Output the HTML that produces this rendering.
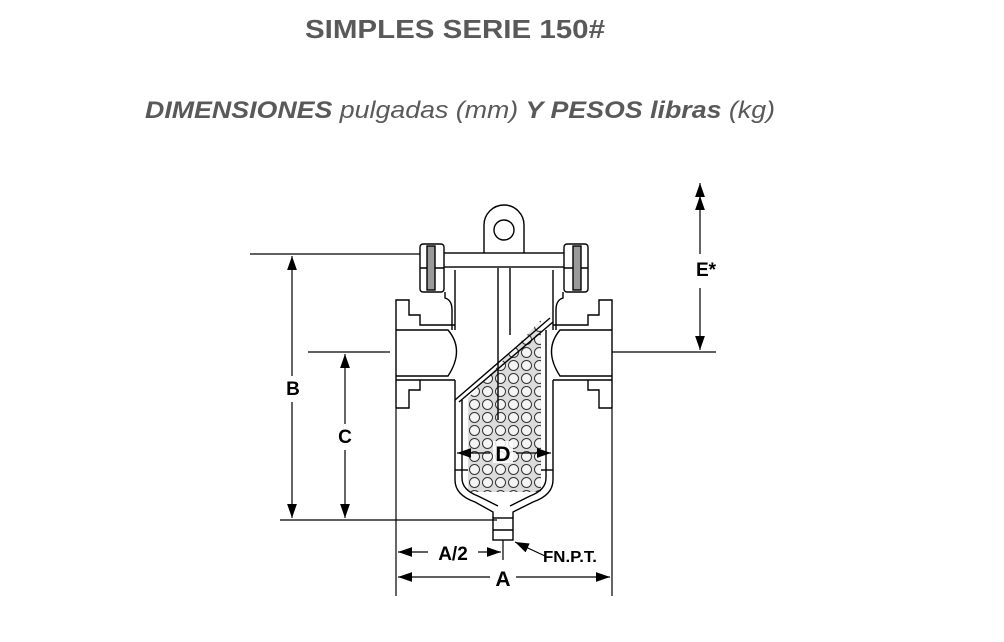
<!DOCTYPE html>
<html><head><meta charset="utf-8"><style>
html,body{margin:0;padding:0;background:#fff;width:1004px;height:642px;overflow:hidden}
svg{display:block}
</style></head><body>
<svg width="1004" height="642" viewBox="0 0 1004 642" xmlns="http://www.w3.org/2000/svg">
<defs>
<pattern id="holes" x="468" y="320" width="13" height="13" patternUnits="userSpaceOnUse">
<rect width="13" height="13" fill="#dcdcdc"/>
<circle cx="6.5" cy="6.5" r="5" fill="#f4f4f4" stroke="#333" stroke-width="1"/>
</pattern>
<marker id="ar" viewBox="0 0 10 10" refX="10" refY="5" markerWidth="10" markerHeight="10" markerUnits="userSpaceOnUse" orient="auto-start-reverse"><path d="M0,1 L10,5 L0,9z" fill="#000"/></marker>
<marker id="arb" viewBox="0 0 10 10" refX="10" refY="5" markerWidth="14" markerHeight="14" markerUnits="userSpaceOnUse" orient="auto-start-reverse"><path d="M0,1.5 L10,5 L0,8.5z" fill="#000"/></marker>
</defs>
<text x="305" y="38" textLength="300" lengthAdjust="spacingAndGlyphs" font-family="Liberation Sans, sans-serif" font-weight="bold" font-size="26" fill="#595959">SIMPLES SERIE 150#</text>
<text x="145" y="118" textLength="630" lengthAdjust="spacingAndGlyphs" font-family="Liberation Sans, sans-serif" font-style="italic" font-size="24" fill="#595959"><tspan font-weight="bold">DIMENSIONES</tspan> pulgadas (mm) <tspan font-weight="bold">Y PESOS libras</tspan> (kg)</text>

<g stroke="#000" stroke-width="1.4" fill="none">
<polygon points="468,398 541,320 541,492 468,492" fill="url(#holes)" stroke="none"/>
<line x1="455" y1="400" x2="550" y2="318"/>
<line x1="459" y1="402" x2="553" y2="322"/>
<line x1="498" y1="268" x2="498" y2="420"/>
<line x1="510" y1="268" x2="510" y2="335"/>
<path d="M484,255 V225 A20,20 0 0 1 524,225 V255"/>
<circle cx="504" cy="230" r="10"/>
<rect x="440" y="253" width="128" height="14" fill="#fff"/>
<rect x="420" y="244" width="24" height="48" rx="3" fill="#fff"/>
<line x1="420" y1="268" x2="444" y2="268"/>
<rect x="427" y="246" width="8" height="44" fill="#999"/>
<rect x="564" y="244" width="24" height="48" rx="3" fill="#fff"/>
<line x1="564" y1="268" x2="588" y2="268"/>
<rect x="573" y="246" width="8" height="44" fill="#999"/>
<path d="M445,292 V298 Q452,300 452,310 V330 M455,270 V330"/>
<path d="M563,292 V298 Q556,300 556,310 V330 M553,270 V330"/>
<path d="M396,408 V300 H409 V315 H420 V325 H455"/>
<path d="M396,330 H448 Q465,350 448,376 H396"/>
<path d="M396,380 H455 M420,380 V390 H409 V408 H396"/>
<path d="M612,408 V300 H599 V315 H588 V325 H553"/>
<path d="M612,330 H560 Q543,350 560,376 H612"/>
<path d="M612,380 H553 M588,380 V390 H599 V408 H612"/>
<path d="M455,380 V480 Q455,495 475,502 L493,512 V518 M553,380 V480 Q553,495 533,502 L513,512 V518"/>
<path d="M462,400 V478 Q462,490 478,496 L498,506 M546,330 V478 Q546,490 530,496 L510,506"/>
<line x1="455" y1="470" x2="468" y2="470"/><line x1="541" y1="470" x2="553" y2="470"/>
<rect x="493" y="518" width="20" height="22" fill="#fff"/>
<line x1="493" y1="530" x2="513" y2="530"/>
</g>

<g stroke="#000" stroke-width="1.2" fill="none">
<line x1="250" y1="254" x2="420" y2="254"/>
<line x1="280" y1="520" x2="497" y2="520"/>
<line x1="308" y1="352" x2="390" y2="352"/>
<line x1="612" y1="352" x2="716" y2="352"/>
<line x1="396" y1="408" x2="396" y2="596"/>
<line x1="612" y1="408" x2="612" y2="596"/>
<line x1="503" y1="540" x2="503" y2="560"/>
<line x1="292" y1="376" x2="292" y2="256" marker-end="url(#arb)"/>
<line x1="292" y1="402" x2="292" y2="518" marker-end="url(#arb)"/>
<line x1="345" y1="424" x2="345" y2="354" marker-end="url(#arb)"/>
<line x1="345" y1="450" x2="345" y2="518" marker-end="url(#arb)"/>
<line x1="700" y1="254" x2="700" y2="183" marker-end="url(#arb)"/>
<line x1="700" y1="205" x2="700" y2="196" marker-end="url(#arb)"/>
<line x1="700" y1="288" x2="700" y2="350" marker-end="url(#arb)"/>
<line x1="490" y1="453" x2="457" y2="453" marker-end="url(#arb)"/>
<line x1="516" y1="453" x2="551" y2="453" marker-end="url(#arb)"/>
<line x1="428" y1="552" x2="398" y2="552" marker-end="url(#arb)"/>
<line x1="478" y1="552" x2="501" y2="552" marker-end="url(#arb)"/>
<line x1="490" y1="577" x2="398" y2="577" marker-end="url(#arb)"/>
<line x1="516" y1="577" x2="610" y2="577" marker-end="url(#arb)"/>
<line x1="545" y1="556" x2="515" y2="542" marker-end="url(#arb)"/>
</g>
<rect x="493" y="441" width="20" height="22" fill="#fff" opacity="0.85"/>
<g font-family="Liberation Sans, sans-serif" font-weight="bold" font-size="19" fill="#000" text-anchor="middle">
<text x="293" y="395">B</text>
<text x="345" y="443">C</text>
<text x="706" y="276">E*</text>
<text x="503" y="461" font-size="21">D</text>
<text x="453" y="560">A/2</text>
<text x="503" y="586" font-size="21">A</text>
<text x="570" y="562" font-size="16" textLength="54" lengthAdjust="spacingAndGlyphs">FN.P.T.</text>
</g>
</svg>
</body></html>
